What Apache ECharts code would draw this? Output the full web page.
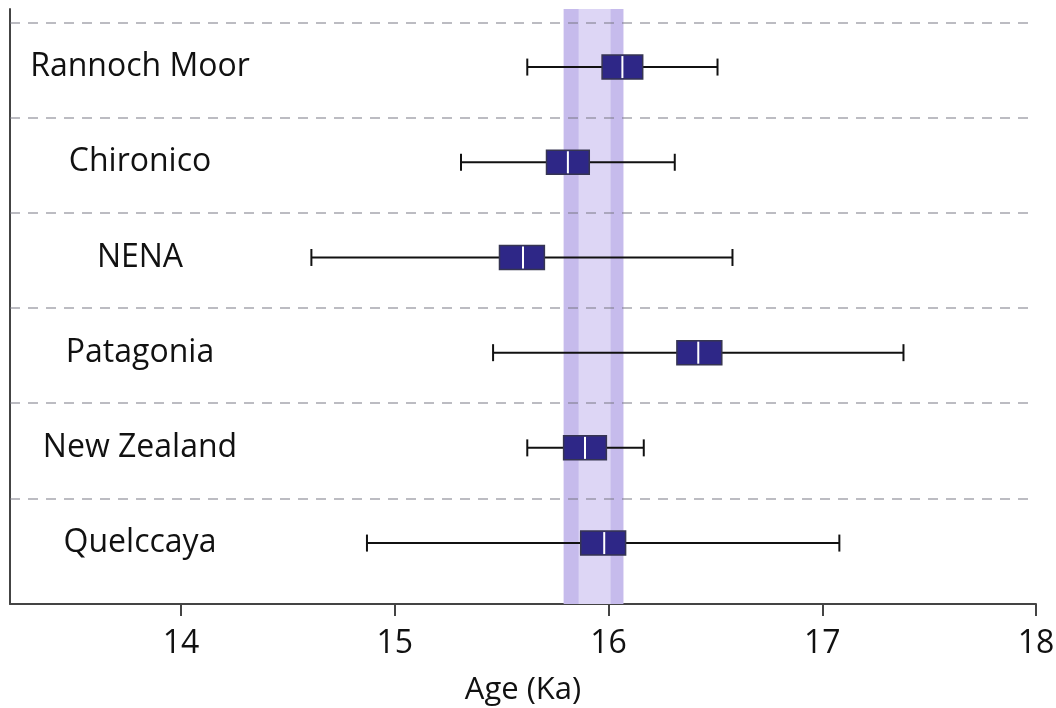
<!DOCTYPE html>
<html>
<head>
<meta charset="utf-8">
<script src="https://cdn.jsdelivr.net/npm/echarts@6/dist/echarts.min.js"></script>
<style>
html,body{margin:0;padding:0;background:#fff;}
#chart{width:1056px;height:708px;}
</style>
</head>
<body>
<div id="chart"></div>
<script>
// Sites, top to bottom
const sites = ['Rannoch Moor', 'Chironico', 'NENA', 'Patagonia', 'New Zealand', 'Quelccaya'];
// Box statistics (ka): whisker low, box low, median, box high, whisker high
const whiskerLow  = [15.62, 15.31, 14.61, 15.46, 15.62, 14.87];
const boxLow      = [15.97, 15.71, 15.49, 16.32, 15.79, 15.87];
const median      = [16.065, 15.81, 15.60, 16.42, 15.89, 15.98];
const boxHigh     = [16.16, 15.91, 15.70, 16.53, 15.99, 16.08];
const whiskerHigh = [16.51, 16.31, 16.58, 17.38, 16.165, 17.08];
// Shaded reference band (ka)
const bandOuter = [15.79, 16.07];
const bandInner = [15.86, 16.01];
// X tick labels
const xTicks = [14, 15, 16, 17, 18];

const n = sites.length;
// row position on the value y-axis: top site = n, bottom = 1
const rowPos = sites.map((s, i) => n - i);
const boxData = sites.map((s, i) => [rowPos[i], whiskerLow[i], boxLow[i], median[i], boxHigh[i], whiskerHigh[i]]);
const dividers = rowPos.map(p => ({ yAxis: p + 0.47 }));

const chart = echarts.init(document.getElementById('chart'), null, { renderer: 'canvas' });

function renderBox(params, api) {
  const y = api.value(0);
  const lo = api.coord([api.value(1), y]);
  const q1 = api.coord([api.value(2), y]);
  const md = api.coord([api.value(3), y]);
  const q3 = api.coord([api.value(4), y]);
  const hi = api.coord([api.value(5), y]);
  const cy = lo[1];
  const bh = 24, ch = 17;
  return {
    type: 'group',
    children: [
      { type: 'line', shape: { x1: lo[0], y1: cy, x2: hi[0], y2: cy }, style: { stroke: '#111', lineWidth: 2 } },
      { type: 'line', shape: { x1: lo[0], y1: cy - ch / 2, x2: lo[0], y2: cy + ch / 2 }, style: { stroke: '#111', lineWidth: 2 } },
      { type: 'line', shape: { x1: hi[0], y1: cy - ch / 2, x2: hi[0], y2: cy + ch / 2 }, style: { stroke: '#111', lineWidth: 2 } },
      { type: 'rect', shape: { x: q1[0], y: cy - bh / 2, width: q3[0] - q1[0], height: bh }, style: { fill: '#2e2787', stroke: '#363552', lineWidth: 1.5 } },
      { type: 'line', shape: { x1: md[0], y1: cy - bh / 2 + 1, x2: md[0], y2: cy + bh / 2 - 1 }, style: { stroke: '#ffffff', lineWidth: 2 } }
    ]
  };
}

const option = {
  animation: false,
  backgroundColor: '#ffffff',
  textStyle: { fontFamily: 'Open Sans' },
  grid: { left: 10, right: 20, top: 9, bottom: 104, containLabel: false, outerBoundsMode: 'none' },
  xAxis: {
    type: 'value',
    min: 13.2,
    max: 18,
    name: 'Age (Ka)',
    nameLocation: 'middle',
    nameGap: 71,
    nameTextStyle: { fontFamily: 'Open Sans', fontSize: 31, color: '#111' },
    axisLine: { show: true, onZero: false, lineStyle: { color: '#444', width: 2 } },
    axisTick: { show: true, inside: false, length: 12, customValues: xTicks, lineStyle: { color: '#444', width: 2 } },
    axisLabel: { customValues: xTicks, fontFamily: 'Open Sans', fontSize: 32, color: '#111', margin: 24 },
    splitLine: { show: false }
  },
  yAxis: {
    type: 'value',
    min: 0.36,
    max: 6.61,
    axisLine: { show: true, onZero: false, lineStyle: { color: '#444', width: 2 } },
    axisTick: { show: false },
    splitLine: { show: false },
    axisLabel: {
      inside: true,
      customValues: rowPos,
      formatter: v => sites[n - Math.round(v)],
      align: 'center',
      margin: 130,
      fontFamily: 'Open Sans',
      fontSize: 32,
      color: '#111'
    }
  },
  series: [
    {
      type: 'line',
      data: [],
      silent: true,
      z: 1,
      markArea: {
        silent: true,
        itemStyle: { color: '#c6bbec' },
        data: [[{ xAxis: bandOuter[0] }, { xAxis: bandOuter[1] }]]
      }
    },
    {
      type: 'line',
      data: [],
      silent: true,
      z: 2,
      markArea: {
        silent: true,
        itemStyle: { color: '#ddd6f5' },
        data: [[{ xAxis: bandInner[0] }, { xAxis: bandInner[1] }]]
      }
    },
    {
      type: 'line',
      data: [],
      silent: true,
      z: 3,
      markLine: {
        silent: true,
        symbol: ['none', 'none'],
        label: { show: false },
        lineStyle: { color: 'rgba(120,120,130,0.65)', type: [10, 8], width: 1.5 },
        data: dividers
      }
    },
    {
      type: 'custom',
      renderItem: renderBox,
      encode: { x: [1, 2, 3, 4, 5], y: 0 },
      data: boxData,
      z: 5
    }
  ]
};
chart.setOption(option);
</script>
</body>
</html>
